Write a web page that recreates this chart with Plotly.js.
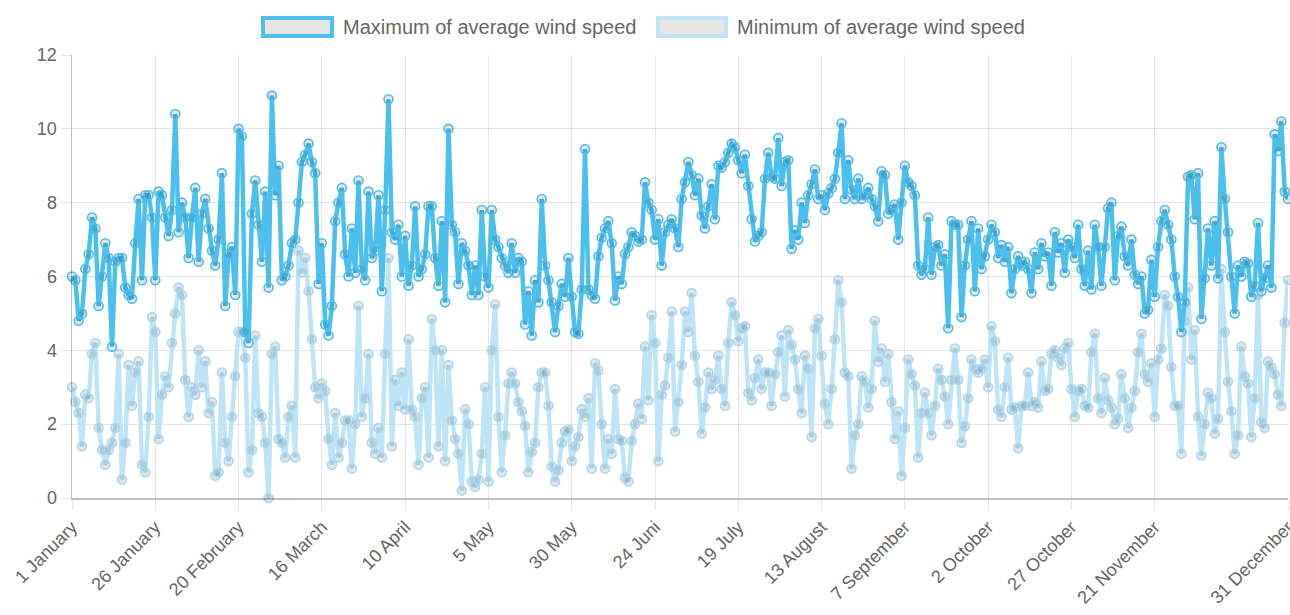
<!DOCTYPE html>
<html><head><meta charset="utf-8">
<script src="https://cdn.plot.ly/plotly-3.0.1.min.js"></script>
<style>html,body{margin:0;padding:0;background:#fff;} #chart{width:1290px;height:615px;}</style>
</head><body><div id="chart"></div>
<script>
const monthNames = ["January","February","March","April","May","Juni","July","August","September","October","November","December"];
const monthDays = [31,29,31,30,31,30,31,31,30,31,30,31];
const dayLabels = [];
monthNames.forEach((m, k) => { for (let d = 1; d <= monthDays[k]; d++) dayLabels.push(d + " " + m); });

const seriesNames = ["Maximum of average wind speed", "Minimum of average wind speed"];

const maxWind = [
6.0,5.9,4.8,5.0,6.2,6.6,7.6,7.3,5.2,6.0,
6.9,6.5,4.1,6.4,6.5,6.5,5.7,5.5,5.4,6.9,
8.1,5.9,8.2,8.2,7.6,5.9,8.3,8.2,7.6,7.1,
7.8,10.4,7.2,8.0,7.6,6.5,7.6,8.4,6.4,7.7,
8.1,7.3,6.7,6.3,7.0,8.8,5.2,6.6,6.8,5.5,
10.0,9.8,4.5,4.2,7.7,8.6,7.4,6.4,8.3,5.7,
10.9,8.2,9.0,5.9,6.0,6.3,6.9,7.0,8.0,9.1,
9.3,9.6,9.1,8.8,5.8,6.9,4.7,4.4,5.2,7.5,
8.0,8.4,6.6,6.0,7.3,6.1,8.6,6.2,5.9,8.3,
6.5,6.7,8.2,5.6,7.8,10.8,7.2,7.0,7.4,6.0,
7.1,5.75,6.3,7.9,6.0,6.2,6.6,7.9,7.9,6.5,
5.75,7.5,5.3,10.0,7.4,7.2,5.8,6.9,6.7,6.3,
5.5,6.3,5.5,7.8,6.0,5.7,7.8,7.0,6.8,6.5,
6.3,6.1,6.9,6.1,6.5,6.4,4.7,5.6,4.4,5.9,
5.3,8.1,6.3,5.9,5.3,4.5,5.2,5.8,5.45,6.5,
5.45,4.5,4.45,5.65,9.45,5.65,5.5,5.4,6.55,7.05,
7.3,7.5,6.9,5.35,6.0,5.8,6.6,6.8,7.2,7.1,
6.95,7.0,8.55,8.0,7.8,7.0,7.55,6.3,7.2,7.4,
7.55,7.3,6.8,8.1,8.55,9.1,8.75,8.2,8.65,7.65,
7.3,7.9,8.5,7.55,9.0,8.95,9.1,9.35,9.6,9.5,
9.15,8.8,9.3,8.45,7.55,6.95,7.1,7.2,8.65,9.35,
8.7,8.65,9.75,8.45,9.1,9.15,6.75,7.25,7.0,8.0,
7.45,8.2,8.5,8.9,8.1,8.2,7.8,8.25,8.4,8.65,
9.35,10.15,8.1,9.15,8.35,8.1,8.65,8.1,8.2,8.4,
8.1,7.9,7.5,8.85,8.75,7.7,7.8,7.95,7.0,8.0,
9.0,8.55,8.45,8.2,6.3,6.05,6.2,7.6,6.05,6.8,
6.85,6.3,6.6,4.6,7.5,7.4,7.4,4.9,6.3,7.0,
7.5,5.6,7.3,6.2,6.55,7.0,7.4,7.2,6.5,6.85,
6.4,6.8,5.55,6.2,6.55,6.3,6.4,6.2,5.55,6.65,
6.2,6.9,6.55,6.65,5.75,7.2,6.65,6.9,6.1,7.0,
6.8,6.5,7.4,6.2,5.75,6.7,5.65,7.4,6.8,5.75,
6.8,7.85,8.0,5.9,7.1,7.35,6.55,6.3,7.0,6.05,
5.8,6.0,5.0,5.1,6.45,5.45,6.8,7.5,7.8,7.4,
7.0,6.0,5.45,4.5,5.3,8.7,8.75,7.55,8.8,4.85,
5.95,7.3,6.3,7.5,5.95,9.5,8.1,7.2,6.0,5.0,
6.3,6.0,6.4,6.35,5.45,5.75,7.45,5.6,5.95,6.3,
5.7,9.85,9.4,10.2,8.3,8.1
];

const minWind = [
3.0,2.6,2.3,1.4,2.8,2.7,3.9,4.2,1.9,1.3,
0.9,1.3,1.5,1.9,3.9,0.5,1.5,3.6,2.5,3.4,
3.7,0.9,0.7,2.2,4.9,4.5,1.6,2.8,3.3,3.0,
4.2,5.0,5.7,5.5,3.2,2.2,3.0,2.8,4.0,3.0,
3.7,2.3,2.6,0.6,0.7,3.4,1.5,1.0,2.2,3.3,
4.5,4.5,3.8,0.7,1.3,4.4,2.3,2.2,1.5,0.0,
3.9,4.1,1.6,1.5,1.1,2.2,2.5,1.1,6.7,6.1,
6.5,5.6,4.3,3.0,2.7,3.1,2.9,1.6,0.9,2.3,
1.1,1.5,2.1,2.1,0.8,2.0,5.2,2.2,2.7,3.9,
1.5,1.2,1.9,1.1,3.9,6.5,1.4,3.2,2.5,3.4,
2.4,4.3,2.4,2.2,0.9,2.7,3.0,1.1,4.85,4.0,
1.4,4.0,1.0,3.6,2.1,1.6,1.2,0.2,2.4,2.0,
0.45,0.3,0.5,1.2,3.0,0.45,4.0,5.25,2.2,0.7,
1.7,3.1,3.4,3.1,2.6,2.35,1.95,0.7,1.25,1.5,
3.0,3.4,3.4,2.5,0.85,0.45,0.75,1.5,1.8,1.85,
1.0,1.4,1.65,2.4,2.2,2.7,0.8,3.65,3.45,2.0,
0.8,1.6,1.2,2.95,1.6,1.55,0.55,0.45,1.55,2.0,
2.55,2.15,4.1,2.65,4.95,4.2,1.0,2.8,3.05,3.8,
5.05,1.8,2.6,3.6,5.05,4.5,5.55,3.85,3.15,1.75,
2.45,3.4,2.95,3.2,3.85,2.95,2.5,4.2,5.3,4.95,
4.25,4.6,4.65,2.85,2.65,3.25,3.75,2.95,3.4,3.4,
2.5,3.35,3.95,4.4,2.75,4.55,4.15,3.75,2.95,2.3,
3.85,3.5,1.65,4.6,4.85,3.85,2.55,2.0,2.95,4.3,
5.9,5.3,3.4,3.3,0.8,1.7,2.0,3.3,3.15,2.45,
2.95,4.8,3.7,4.05,3.15,3.9,2.6,1.6,2.35,0.6,
1.9,3.75,3.35,3.05,1.1,2.3,2.85,2.3,1.7,2.5,
3.5,3.2,2.75,2.0,3.2,4.05,3.2,1.5,1.95,2.7,
3.75,3.5,3.4,3.5,3.75,3.0,4.65,4.25,2.4,2.2,
3.0,3.8,2.4,2.45,1.35,2.5,2.5,3.4,2.5,2.6,
2.45,3.7,2.9,2.95,3.9,4.0,3.8,3.6,4.05,4.2,
2.95,2.2,2.9,2.95,2.5,2.45,3.95,4.45,2.7,2.3,
3.25,2.65,2.45,2.0,2.15,3.35,2.7,1.9,2.45,2.9,
3.95,4.45,3.35,3.15,3.65,2.2,3.75,4.05,5.5,5.2,
3.55,2.5,2.5,1.2,4.8,5.7,3.75,4.55,2.2,1.15,
2.0,2.85,2.7,1.75,2.15,6.2,4.5,3.15,2.35,1.2,
1.7,4.1,3.3,3.1,1.65,2.7,5.5,2.05,1.9,3.7,
3.55,3.35,2.8,2.5,4.75,5.9
];

const lastIdx = dayLabels.length - 1;
const tickLabels = dayLabels.filter((_, i) => (i % 25 === 0 && lastIdx - i >= 25) || i === lastIdx);

const maxColor = "#4dbfec";
const minColor = "#bfe4f6";
const minBorder = "#a9d8f0";
const FONT = "Liberation Sans, Arial, sans-serif";
const W = 1290, H = 615;
const M = {l: 72, r: 2, t: 55, b: 117};
const pw = W - M.l - M.r, ph = H - M.t - M.b;
const px = x => (x - M.l) / pw;
const py = y => (H - M.b - y) / ph;

const traces = [
  {x: dayLabels, y: minWind, name: seriesNames[1], type: "scatter", mode: "lines+markers",
   line: {color: minColor, width: 4.5}, cliponaxis: false,
   marker: {size: 9, color: "rgba(0,0,0,0.1)", line: {color: minBorder, width: 1.6}}, showlegend: false},
  {x: dayLabels, y: maxWind, name: seriesNames[0], type: "scatter", mode: "lines+markers",
   line: {color: maxColor, width: 4.5}, cliponaxis: false,
   marker: {size: 9, color: "rgba(0,0,0,0.1)", line: {color: maxColor, width: 1.6}}, showlegend: false}
];

const legendShapes = [
  {type: "rect", xref: "paper", yref: "paper", x0: px(263), x1: px(332), y0: py(36), y1: py(18),
   fillcolor: "rgba(0,0,0,0.1)", line: {color: maxColor, width: 4}},
  {type: "rect", xref: "paper", yref: "paper", x0: px(658), x1: px(726), y0: py(36), y1: py(18),
   fillcolor: "rgba(0,0,0,0.1)", line: {color: minColor, width: 4}}
];
const legendText = [
  {xref: "paper", yref: "paper", x: px(341), y: py(27), xanchor: "left", yanchor: "middle", showarrow: false,
   text: seriesNames[0], font: {family: FONT, size: 20, color: "#666"}},
  {xref: "paper", yref: "paper", x: px(735), y: py(27), xanchor: "left", yanchor: "middle", showarrow: false,
   text: seriesNames[1], font: {family: FONT, size: 20, color: "#666"}}
];

const layout = {
  width: W, height: H, margin: M, paper_bgcolor: "#fff", plot_bgcolor: "#fff",
  showlegend: false,
  xaxis: {type: "category", range: [0, lastIdx], tickmode: "array", tickvals: tickLabels, ticktext: tickLabels,
    tickangle: -45, showgrid: true, gridcolor: "rgba(0,0,0,0.1)", gridwidth: 1,
    ticks: "outside", ticklen: 10, tickcolor: "rgba(0,0,0,0.1)",
    tickfont: {family: FONT, size: 18, color: "#666"},
    showline: true, linecolor: "rgba(0,0,0,0.25)", linewidth: 1.5, zeroline: false},
  yaxis: {range: [0, 12], tick0: 0, dtick: 2, showgrid: true, gridcolor: "rgba(0,0,0,0.1)", gridwidth: 1,
    ticks: "outside", ticklen: 10, tickcolor: "rgba(0,0,0,0.1)",
    tickfont: {family: FONT, size: 18, color: "#666"},
    showline: true, linecolor: "rgba(0,0,0,0.25)", linewidth: 1.5, zeroline: false},
  shapes: legendShapes,
  annotations: legendText
};

Plotly.newPlot("chart", traces, layout, {displayModeBar: false, staticPlot: true});
</script>
</body></html>
